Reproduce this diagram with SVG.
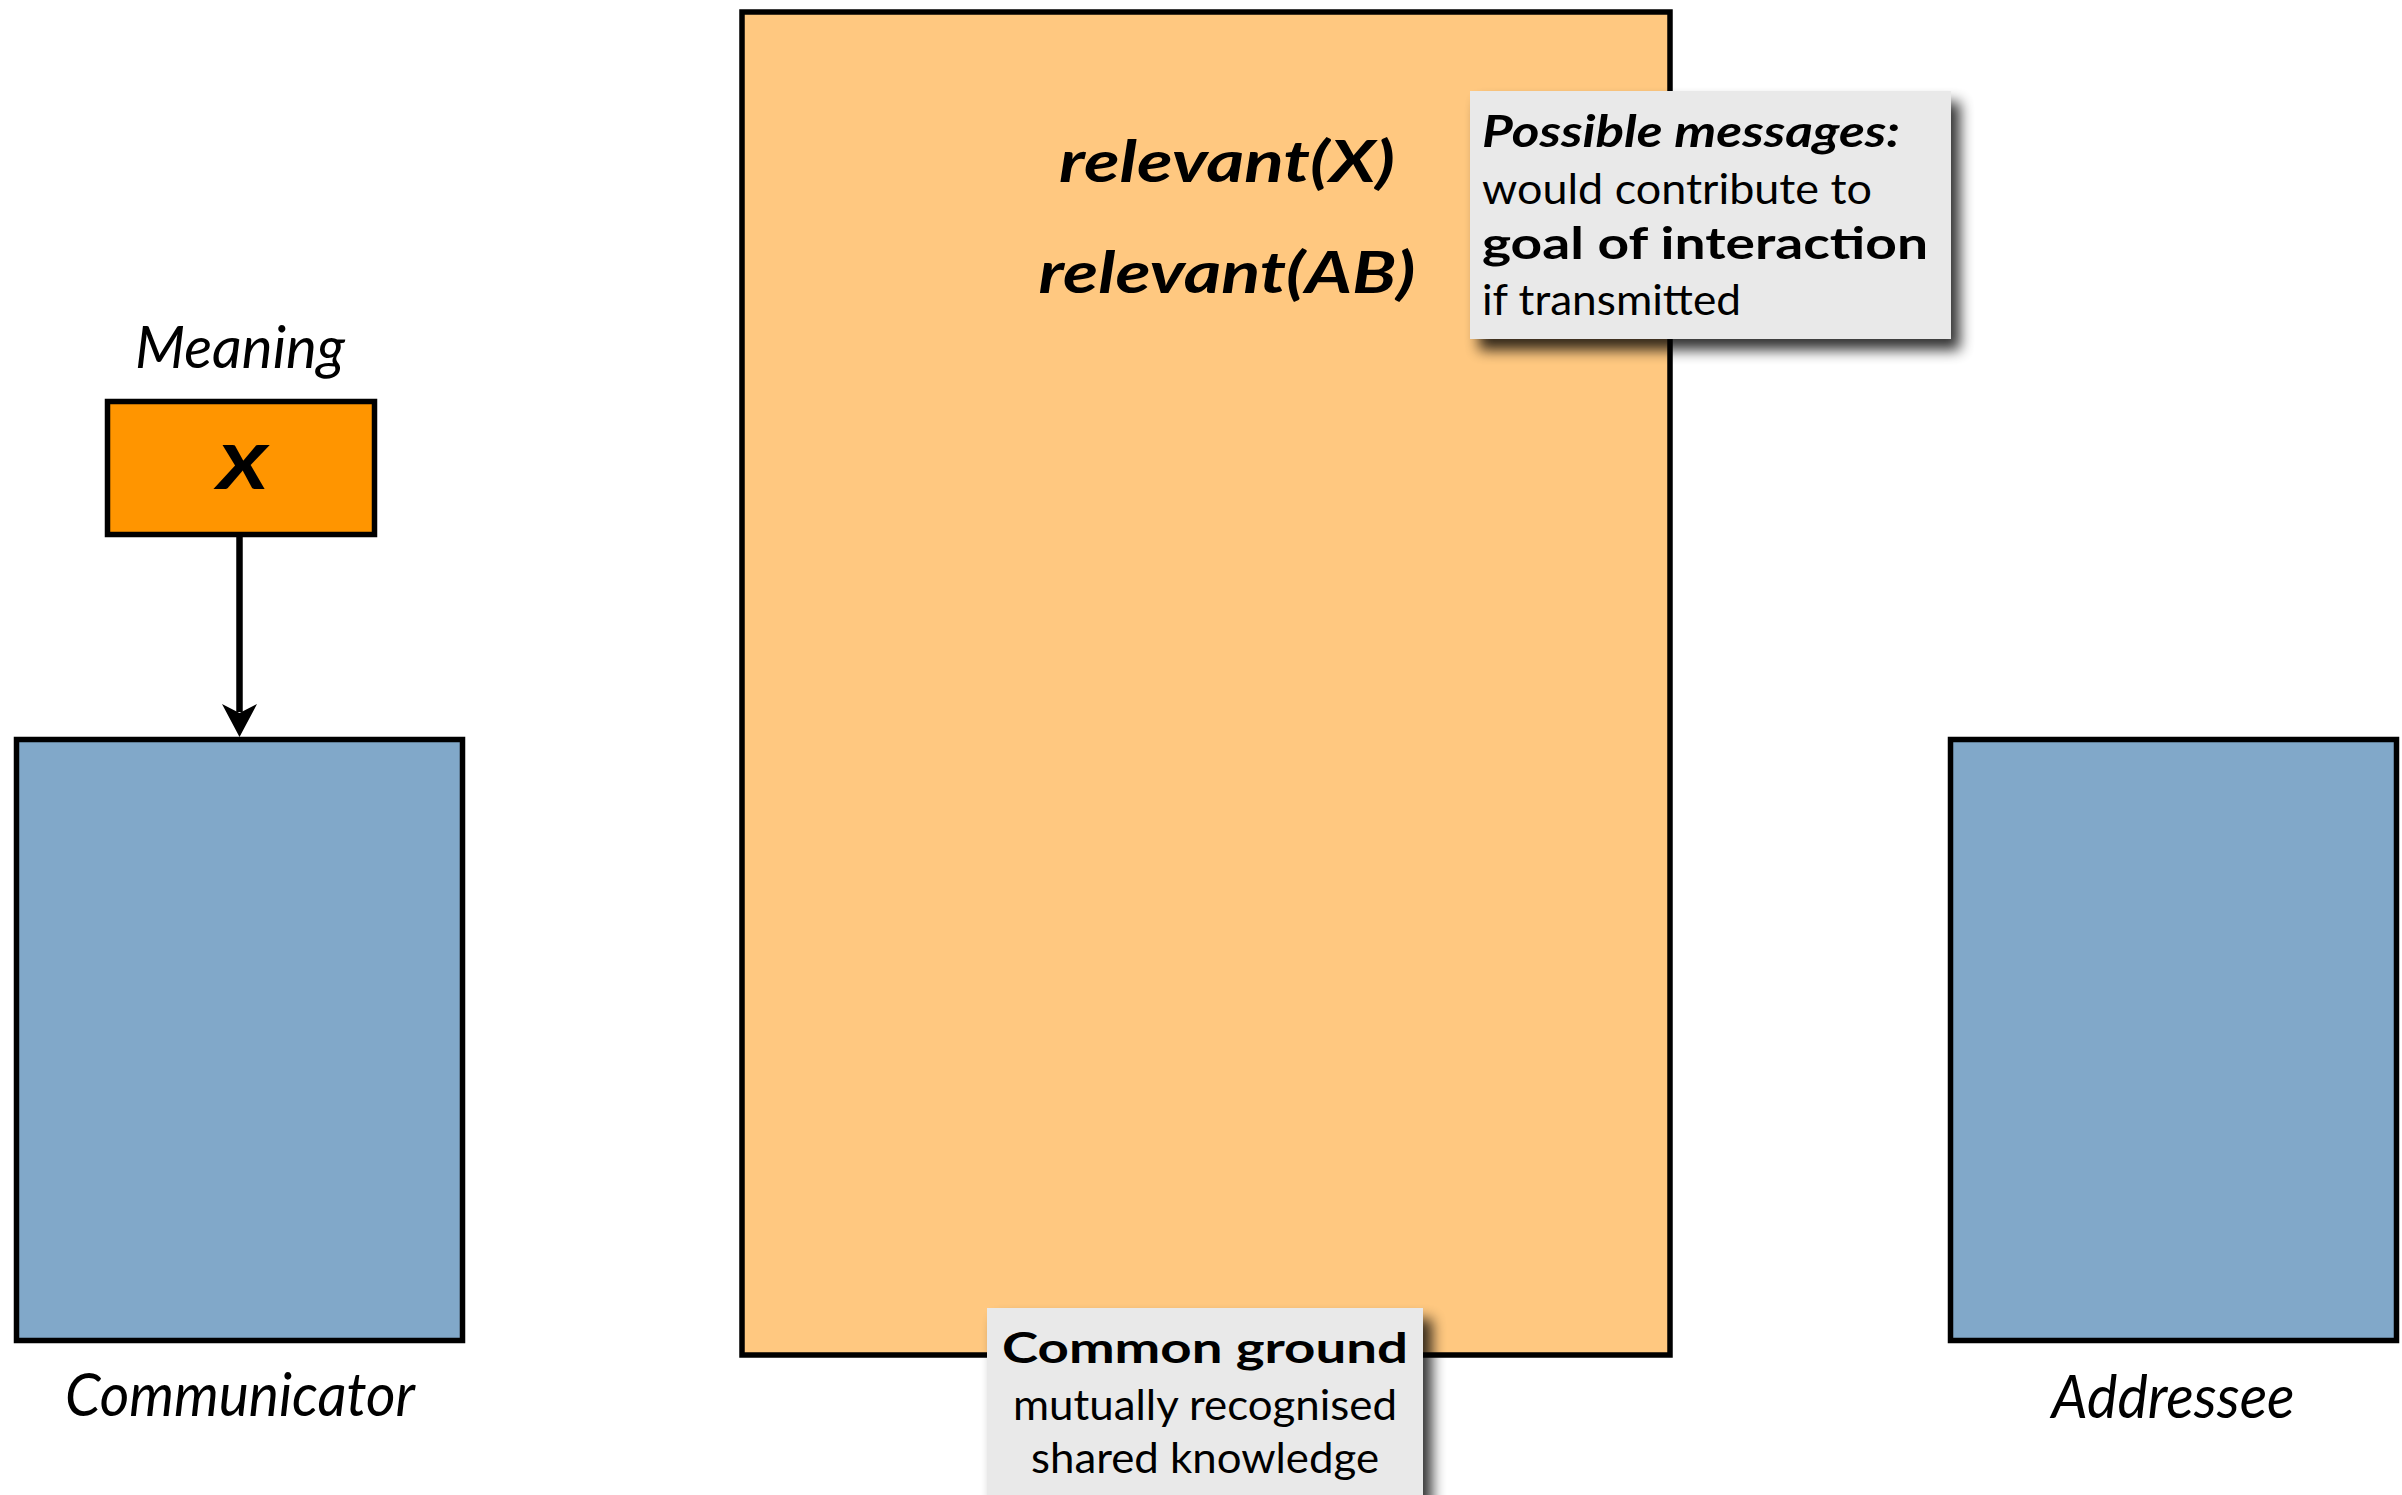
<svg xmlns="http://www.w3.org/2000/svg" width="2402" height="1495" viewBox="0 0 2402 1495">
  <defs>
    <style>
      .frame { stroke: #000; stroke-width: 5.5; }
      .agent { fill: #81a8c9; }
      .ground { fill: #ffc880; }
      .meaning { fill: #ff9500; }
      .note { fill: #e9e9e9; }
      .t { font-family: "Lato", "Liberation Sans", sans-serif; fill: #000; }
      .it { font-style: italic; }
      .bd { font-weight: bold; }
      .mid { text-anchor: middle; }
      .wire { stroke: #000; stroke-width: 6.5; fill: none; }
    </style>
    <filter id="dropShadow" x="-10%" y="-10%" width="130%" height="140%">
      <feGaussianBlur in="SourceAlpha" stdDeviation="7"/>
      <feOffset dx="9" dy="11" result="blur"/>
      <feComponentTransfer>
        <feFuncA type="linear" slope="0.8"/>
      </feComponentTransfer>
      <feMerge>
        <feMergeNode/>
        <feMergeNode in="SourceGraphic"/>
      </feMerge>
    </filter>
  </defs>

  <!-- shared knowledge area -->
  <g id="common-ground">
    <rect class="ground frame" x="742" y="12" width="928" height="1343"/>
    <text class="t bd it mid" x="1227" y="182" font-size="58" textLength="336" lengthAdjust="spacingAndGlyphs">relevant(X)</text>
    <text class="t bd it mid" x="1227" y="293" font-size="58" textLength="377" lengthAdjust="spacingAndGlyphs">relevant(AB)</text>
  </g>

  <!-- sender -->
  <g id="communicator">
    <rect class="agent frame" x="16.5" y="739.5" width="446" height="601"/>
    <text class="t it mid" x="240" y="1416" font-size="60" textLength="350" lengthAdjust="spacingAndGlyphs">Communicator</text>
  </g>

  <!-- receiver -->
  <g id="addressee">
    <rect class="agent frame" x="1950.5" y="739.5" width="446" height="601"/>
    <text class="t it mid" x="2173" y="1418" font-size="60" textLength="243" lengthAdjust="spacingAndGlyphs">Addressee</text>
  </g>

  <!-- meaning to convey -->
  <g id="meaning">
    <text class="t it mid" x="240" y="368" font-size="59" textLength="210" lengthAdjust="spacingAndGlyphs">Meaning</text>
    <rect class="meaning frame" x="107.5" y="401.5" width="267" height="133"/>
    <text class="t it mid" x="242" y="489" font-size="60" font-weight="900" textLength="50" lengthAdjust="spacingAndGlyphs">X</text>
  </g>

  <!-- connectors -->
  <g id="connectors">
    <line class="wire" x1="239.5" y1="537" x2="239.5" y2="712"/>
    <path d="M239.5 737 L222 704 L239.5 713 L257 704 Z" fill="#000"/>
  </g>

  <!-- callout: candidate messages -->
  <g id="possible-messages">
    <rect class="note" x="1470" y="91" width="481" height="248" filter="url(#dropShadow)"/>
    <text class="t bd it" x="1482" y="147" font-size="44" textLength="418" lengthAdjust="spacingAndGlyphs">Possible messages:</text>
    <text class="t" x="1482" y="204" font-size="43" textLength="390" lengthAdjust="spacingAndGlyphs">would contribute to</text>
    <text class="t bd" x="1482" y="259" font-size="44" textLength="446" lengthAdjust="spacingAndGlyphs">goal of interaction</text>
    <text class="t" x="1482" y="315" font-size="43" textLength="259" lengthAdjust="spacingAndGlyphs">if transmitted</text>
  </g>

  <!-- callout: common ground definition -->
  <g id="common-ground-note">
    <rect class="note" x="987" y="1308" width="436" height="220" filter="url(#dropShadow)"/>
    <text class="t bd mid" x="1205" y="1363" font-size="42" textLength="406" lengthAdjust="spacingAndGlyphs">Common ground</text>
    <text class="t mid" x="1205" y="1420" font-size="42" textLength="384" lengthAdjust="spacingAndGlyphs">mutually recognised</text>
    <text class="t mid" x="1205" y="1473" font-size="42" textLength="348" lengthAdjust="spacingAndGlyphs">shared knowledge</text>
  </g>
</svg>
